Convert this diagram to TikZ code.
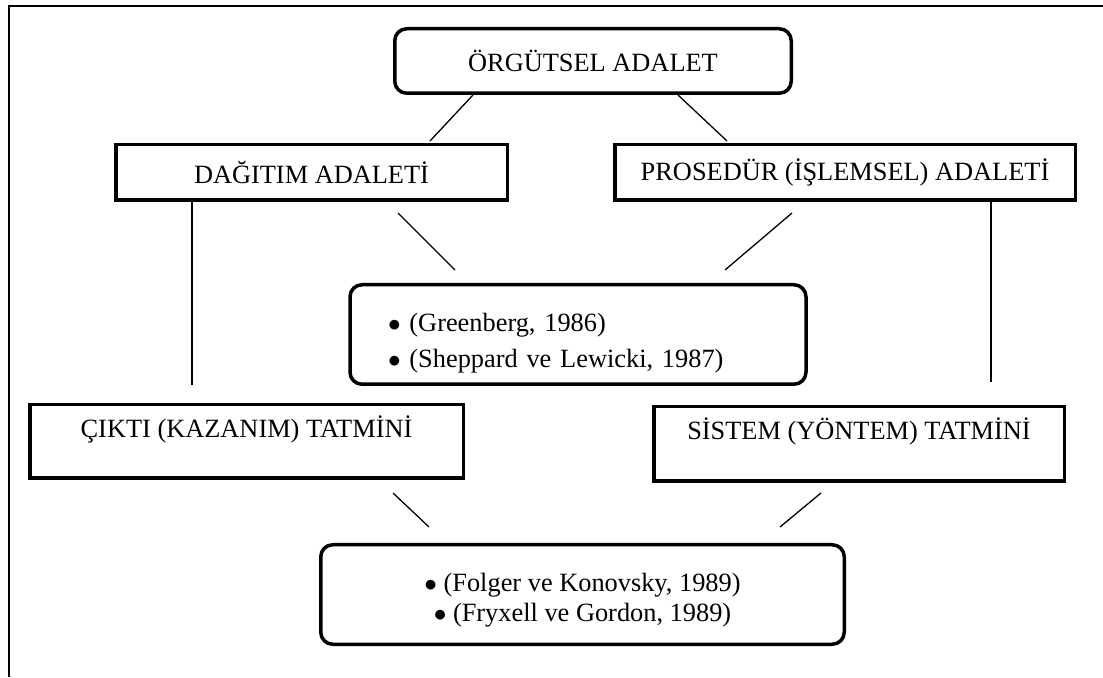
\documentclass[tikz,border=0pt]{standalone}
\usepackage{fontspec}
\setmainfont{Liberation Serif}
\usetikzlibrary{calc}
\newcommand{\madde}{$\bullet$ }

\begin{document}
\begin{tikzpicture}[
	kutu/.style={draw,line width=0.7mm,inner sep=0pt,align=center,font=\fontsize{15}{17}\selectfont},
	yuvarlak/.style={kutu,rounded corners=2.4mm},
	cizgi/.style={line width=0.26mm}]
				 %\draw[color=gray,step=1mm, help lines,opacity=0.3] (0,0) grid (220mm,135mm); %help grids
				 \useasboundingbox (0,0) rectangle (220.6mm,135.4mm);
				 \draw[line width=0.4mm] (1.7mm,0) -- (1.7mm,134.1mm) -- (220.6mm,134.1mm);
				 % kutular
				 \node[yuvarlak,minimum width=79.3mm,minimum height=12.9mm] (orgutsel) at (118.6mm,123.2mm) {ÖRGÜTSEL ADALET};
				 \node[kutu,minimum width=78.3mm,minimum height=11.1mm] (dagitim) at (62.3mm,100.9mm) {DAĞITIM ADALETİ};
				 \node[kutu,minimum width=92.1mm,minimum height=11.1mm] (prosedur) at (169mm,100.9mm) {PROSEDÜR (İŞLEMSEL) ADALETİ};
				 \node[yuvarlak,align=left,text width=76mm,inner xsep=7.6mm,minimum height=19.9mm] (kaynakA) at (115.6mm,68.5mm)
				 {\rule{0pt}{20pt}\madde(Greenberg, 1986)\\[3.5pt] \madde(Sheppard ve Lewicki, 1987)};
				 \node[kutu,minimum width=86.7mm,minimum height=14.7mm] (cikti) at (49.3mm,47.1mm) {ÇIKTI (KAZANIM) TATMİNİ\\ \mbox{}};
				 \node[kutu,minimum width=82.1mm,minimum height=14.9mm] (sistem) at (171.8mm,46.6mm) {SİSTEM (YÖNTEM) TATMİNİ\\ \mbox{}};
				 \node[yuvarlak,minimum width=104.7mm,minimum height=19.9mm] (kaynakB) at (116.5mm,16.5mm)
				 {\rule{0pt}{17pt}\madde(Folger ve Konovsky, 1989)\\ \madde(Fryxell ve Gordon, 1989)};
				 % cizgi uclari
				 \coordinate (o1) at (94.6mm,116.4mm);   \coordinate (d1) at (86mm,107.2mm);
				 \coordinate (o2) at (135.6mm,116.4mm);  \coordinate (p1) at (145.4mm,107.2mm);
				 \coordinate (d2) at (38.4mm,95mm);      \coordinate (c1) at (38.4mm,58.4mm);
				 \coordinate (d3) at (79.6mm,92.8mm);    \coordinate (ka1) at (91mm,81.4mm);
				 \coordinate (p2) at (158.4mm,92.8mm);   \coordinate (ka2) at (145mm,81.4mm);
				 \coordinate (p3) at (198.2mm,95mm);     \coordinate (s1) at (198.2mm,59mm);
				 \coordinate (c2) at (78.6mm,36.8mm);    \coordinate (kb1) at (85.8mm,30mm);
				 \coordinate (s2) at (164.2mm,36.8mm);   \coordinate (kb2) at (156mm,30mm);
				 \draw[cizgi] (o1)--(d1);
				 \draw[cizgi] (o2)--(p1);
				 \draw[cizgi] (d2)--(c1);
				 \draw[cizgi] (d3)--(ka1);
				 \draw[cizgi] (p2)--(ka2);
				 \draw[cizgi] (p3)--(s1);
				 \draw[cizgi] (c2)--(kb1);
				 \draw[cizgi] (s2)--(kb2);
\end{tikzpicture}
\end{document}
